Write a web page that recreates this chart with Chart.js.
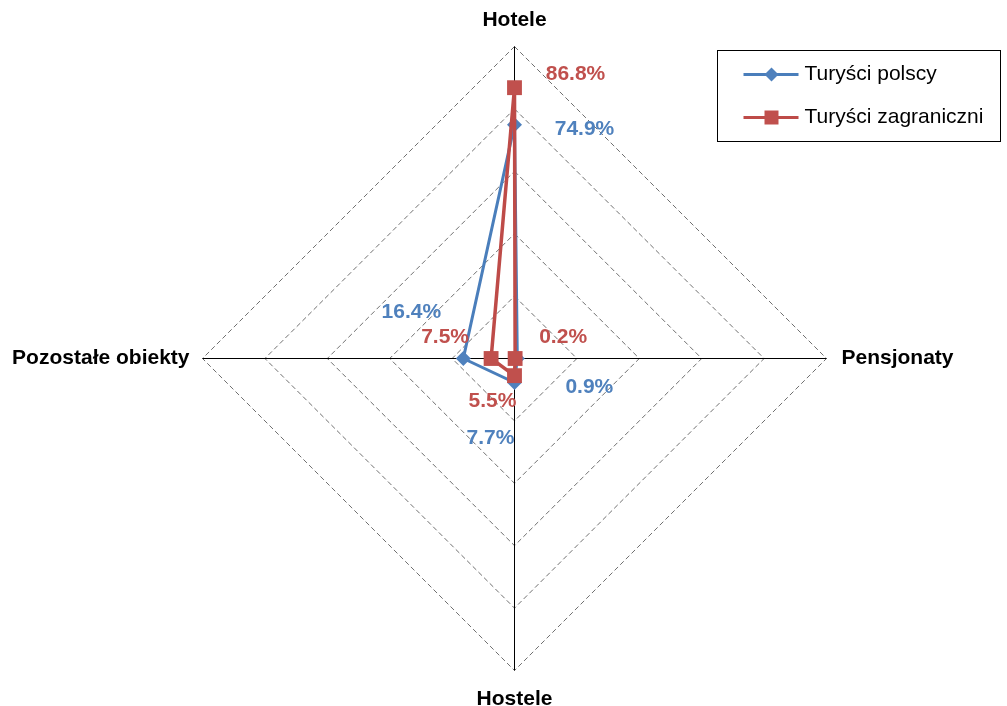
<!DOCTYPE html>
<html>
<head>
<meta charset="utf-8">
<script src="https://cdn.jsdelivr.net/npm/chart.js@4.4.1/dist/chart.umd.min.js"></script>
<style>
  html, body { margin: 0; padding: 0; background: #fff; }
  #wrap { width: 1007px; height: 706px; position: relative; }
</style>
</head>
<body>
<div id="wrap"><canvas id="radar"></canvas></div>
<script>
  var categories = ["Hotele", "Pensjonaty", "Hostele", "Pozostałe obiekty"];
  var seriesNames = ["Turyści polscy", "Turyści zagraniczni"];
  var polscy = [74.9, 0.9, 7.7, 16.4];
  var zagraniczni = [86.8, 0.2, 5.5, 7.5];
  var tickMin = 0, tickMax = 100, tickStep = 20;

  var blue = "#4A7EBB", blueFill = "#4F81BD";
  var red = "#BE4B48", redFill = "#C0504D";
  var fontFamily = "'Liberation Sans', Arial, sans-serif";

  // label offsets (dx, dy) from each point, by series then category
  var labelOffsets = [
    [[70, 4], [72, 29], [-24, 56], [-52, -46]],
    [[61, -13], [48, -21], [-22, 26], [-46, -21]]
  ];

  var fmt = function (v) { return v.toFixed(1) + "%"; };

  // shift drawing half a pixel so 1px lines come out crisp
  var crispPlugin = {
    id: "crisp",
    beforeDraw: function (chart) { chart.ctx.save(); chart.ctx.translate(0.5, 0.5); },
    afterDraw: function (chart) { chart.ctx.restore(); }
  };

  var labelsPlugin = {
    id: "labelsPlugin",
    afterDatasetsDraw: function (chart) {
      var ctx = chart.ctx;
      var scale = chart.scales.r;
      ctx.save();

      // category labels around the web
      ctx.font = "bold 21px " + fontFamily;
      ctx.fillStyle = "#000";
      var r = scale.drawingArea;
      var p = scale.getPointPosition(0, r);
      ctx.textAlign = "center"; ctx.textBaseline = "middle";
      ctx.fillText(categories[0], p.x, p.y - 26);
      p = scale.getPointPosition(1, r);
      ctx.textAlign = "left";
      ctx.fillText(categories[1], p.x + 15, p.y);
      p = scale.getPointPosition(2, r);
      ctx.textAlign = "center";
      ctx.fillText(categories[2], p.x, p.y + 29);
      p = scale.getPointPosition(3, r);
      ctx.textAlign = "right";
      ctx.fillText(categories[3], p.x - 13, p.y);

      // data labels
      ctx.font = "bold 21px " + fontFamily;
      ctx.textAlign = "center";
      [polscy, zagraniczni].forEach(function (vals, s) {
        var meta = chart.getDatasetMeta(s);
        ctx.fillStyle = s === 0 ? blueFill : redFill;
        meta.data.forEach(function (pt, i) {
          var off = labelOffsets[s][i];
          ctx.fillText(fmt(vals[i]), pt.x + off[0], pt.y + off[1]);
        });
      });

      // legend box
      var lx = 717, ly = 50, lw = 283, lh = 91;
      ctx.strokeStyle = "#000";
      ctx.lineWidth = 1;
      ctx.strokeRect(lx, ly, lw, lh);
      ctx.font = "21px " + fontFamily;
      ctx.textAlign = "left";
      var rows = [74, 117];
      seriesNames.forEach(function (name, s) {
        var y = rows[s];
        ctx.strokeStyle = s === 0 ? blue : red;
        ctx.lineWidth = 3;
        ctx.beginPath();
        ctx.moveTo(743, y); ctx.lineTo(798, y);
        ctx.stroke();
        ctx.fillStyle = s === 0 ? blueFill : redFill;
        ctx.beginPath();
        if (s === 0) {
          ctx.moveTo(771, y - 7); ctx.lineTo(778, y); ctx.lineTo(771, y + 7); ctx.lineTo(764, y);
          ctx.closePath();
        } else {
          ctx.rect(764, y - 7, 14, 14);
        }
        ctx.fill();
        ctx.fillStyle = "#000";
        ctx.fillText(name, 804, y);
      });
      ctx.restore();
    }
  };

  new Chart(document.getElementById("radar"), {
    type: "radar",
    data: {
      labels: categories,
      datasets: [
        {
          label: seriesNames[0],
          data: polscy,
          borderColor: blue,
          backgroundColor: blueFill,
          pointBackgroundColor: blueFill,
          pointBorderColor: blueFill,
          borderWidth: 3,
          pointStyle: "rectRot",
          pointRadius: 7.5,
          pointBorderWidth: 0,
          fill: false,
          order: 1
        },
        {
          label: seriesNames[1],
          data: zagraniczni,
          borderColor: red,
          backgroundColor: redFill,
          pointBackgroundColor: redFill,
          pointBorderColor: redFill,
          borderWidth: 3.5,
          pointStyle: "rect",
          pointRadius: 10.5,
          pointBorderWidth: 0,
          fill: false,
          order: 0
        }
      ]
    },
    options: {
      responsive: true,
      maintainAspectRatio: false,
      animation: false,
      layout: { padding: { left: 202, right: 181, top: 46, bottom: 36 } },
      plugins: {
        legend: { display: false },
        tooltip: { enabled: false }
      },
      elements: { line: { tension: 0 } },
      scales: {
        r: {
          min: tickMin,
          max: tickMax,
          ticks: { stepSize: tickStep, display: false },
          pointLabels: { display: false },
          angleLines: { color: "#000", lineWidth: 1 },
          grid: { color: "#6f6f6f", lineWidth: 1 },
          border: { dash: [5, 3] }
        }
      }
    },
    plugins: [crispPlugin, labelsPlugin]
  });
</script>
</body>
</html>
